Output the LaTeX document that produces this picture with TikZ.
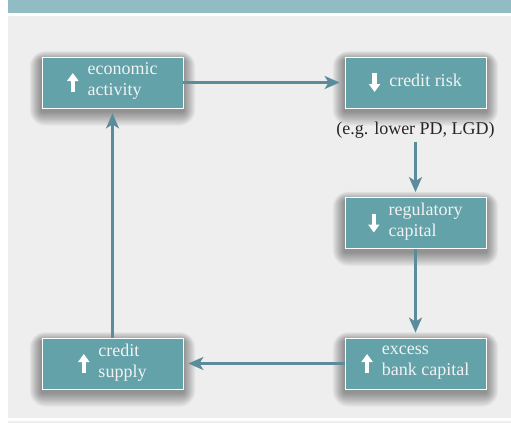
\documentclass[tikz,border=0pt]{standalone}
\usepackage{fontspec}
\setmainfont{Liberation Serif}
\usetikzlibrary{arrows.meta,positioning}
\pgfdeclarelayer{background}
\pgfsetlayers{background,main}
\definecolor{barblue}{HTML}{92BCC4}
\definecolor{panelgray}{HTML}{EEEEEE}
\definecolor{boxteal}{HTML}{64A2AA}
\definecolor{linkteal}{HTML}{5A8C9C}
\definecolor{boxtext}{HTML}{F2F2F2}
\tikzset{
  box/.style={draw=white, line width=0.8pt, fill=boxteal,
    minimum width=141pt, minimum height=51pt, inner sep=0pt},
  boxtxt/.style={text=boxtext, font=\fontsize{18}{21}\selectfont,
    align=left, inner sep=0pt, execute at begin node=\strut},
  link/.style={draw=linkteal, line width=2.5pt, shorten >=5pt,
    -{Stealth[length=15pt,width=13pt,inset=4pt]}},
  upsign/.style={white, line width=4.5pt, -{Triangle[length=8pt,width=11pt]}},
}

\begin{document}
\begin{tikzpicture}[x=1pt, y=1pt]
\useasboundingbox (0,0) rectangle (511,-423);

\node[box] (econ) at (112.5,-82.5) {};
\node[box] (risk) at (415.5,-82.5) {};
\node[box] (reg) at (415.5,-223) {};
\node[box] (excess) at (415.5,-363.5) {};
\node[box] (supply) at (112.5,-363.5) {};

\node[boxtxt, xshift=10pt] (econtxt) at (econ) {economic\\activity};
\node[boxtxt, xshift=10pt] (risktxt) at (risk) {credit risk};
\node[boxtxt, xshift=10pt] (regtxt) at (reg) {regulatory\\capital};
\node[boxtxt, xshift=10pt] (excesstxt) at (excess) {excess\\bank capital};
\node[boxtxt, xshift=10pt] (supplytxt) at (supply) {credit\\supply};

% up and down signs
\foreach \t in {econtxt,excesstxt,supplytxt}
  \draw[upsign] ([xshift=-14.5pt,yshift=-9.5pt]\t.west) -- ([xshift=-14.5pt,yshift=9.5pt]\t.west);
\foreach \t in {risktxt,regtxt}
  \draw[upsign] ([xshift=-14.5pt,yshift=9.5pt]\t.west) -- ([xshift=-14.5pt,yshift=-9.5pt]\t.west);

\node[font=\fontsize{18}{21}\selectfont, text=black!85] (note) at (415.5,-130) {(e.g. lower PD, LGD)};

\draw[link] (econ) -- (risk);
\draw[link] (note) -- (reg);
\draw[link] (reg) -- (excess);
\draw[link] (excess) -- (supply);
\draw[link] (supply) -- (econ);

\begin{pgfonlayer}{background}
\fill[barblue] (8,0) rectangle (511,-13);
\fill[panelgray] (8,-16) rectangle (511,-418);
\fill[panelgray] (8,-421) rectangle (511,-423);
% soft shadows
\foreach \n in {econ,risk,reg,excess,supply}
  \foreach \k in {1,...,16}
    \fill[black, opacity=0.026, rounded corners=\k pt]
      ([xshift=-0.75*\k pt, yshift=0.6*\k pt - 4pt]\n.north west) rectangle
      ([xshift=0.75*\k pt, yshift=-0.9*\k pt - 3pt]\n.south east);
\end{pgfonlayer}
\end{tikzpicture}
\end{document}
